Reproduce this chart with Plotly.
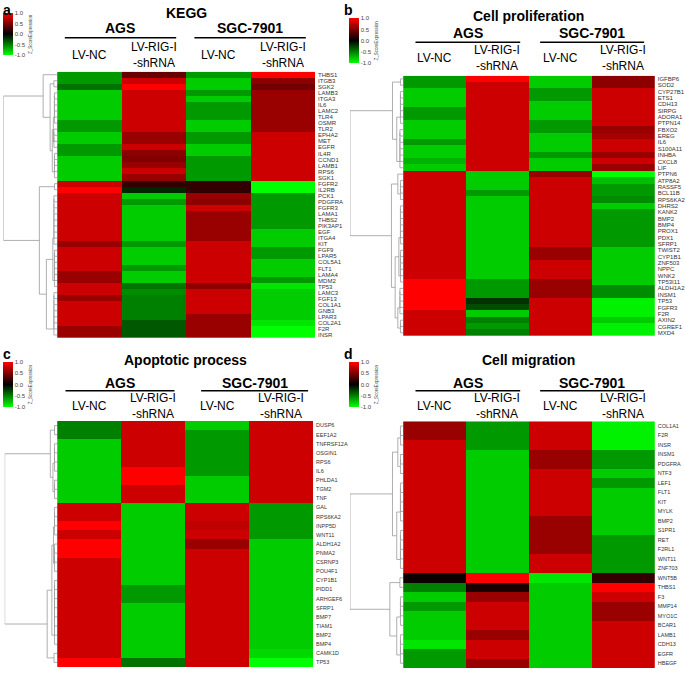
import plotly.graph_objects as go

W, H = 685, 686
FONT = "Liberation Sans, Arial, sans-serif"

col_labels = ["LV-NC", "LV-RIG-I<br>-shRNA", "LV-NC", "LV-RIG-I<br>-shRNA"]
group_labels = ["AGS", "SGC-7901"]
cb_tickvals = [1.0, 0.5, 0.0, -0.5, -1.0]
cb_ticktext = ["1.0", "0.5", "0.0", "-0.5", "-1.0"]
cb_title = "Z_ScoreExpression"

# ---------------- Panel a : KEGG ----------------
kegg_genes = ["THBS1", "ITGB3", "SGK2", "LAMB3", "ITGA3", "IL6", "LAMC2", "TLR4", "OSMR", "TLR2",
              "EPHA2", "MET", "EGFR", "IL4R", "CCND1", "LAMB1", "RPS6", "SGK1", "FGFR2", "IL2RB",
              "PCK1", "PDGFRA", "FGFR3", "LAMA1", "THBS2", "PIK3AP1", "EGF", "ITGA4", "KIT", "FGF9",
              "LPAR5", "COL5A1", "FLT1", "LAMA4", "MDM2", "TP53", "LAMC3", "FGF13", "COL1A1", "GNB3",
              "LPAR3", "COL2A1", "F2R", "INSR"]
kegg_ags_nc = [-0.6, -0.6, -0.45, -0.8, -0.8, -0.8, -0.8, -0.8, -0.6, -0.6,
               -0.8, -0.8, -0.6, -0.6, -0.8, -0.8, -0.8, -0.8, 0.8, 1.0,
               0.8, 0.8, 0.8, 0.8, 0.8, 0.8, 0.8, 0.8, 0.6, 0.8,
               0.8, 0.8, 0.8, 0.6, 0.6, 0.8, 0.8, 0.6, 0.8, 0.8,
               0.8, 0.8, 0.6, 0.6]
kegg_ags_sh = [0.4, 0.8, 1.0, 0.8, 0.8, 0.8, 0.8, 0.8, 0.8, 0.8,
               0.6, 0.6, 0.8, 0.55, 0.5, 0.6, 0.8, 0.6, 0.2, -0.15,
               -0.8, -0.6, -0.8, -0.8, -0.8, -0.8, -0.8, -0.8, -0.6, -0.8,
               -0.8, -0.8, -0.6, -0.8, -0.8, -0.45, -0.55, -0.5, -0.5, -0.5,
               -0.5, -0.35, -0.35, -0.35]
kegg_sgc_nc = [-0.6, -0.8, -0.8, -0.6, -0.8, -0.6, -0.6, -0.6, -0.8, -0.8,
               -0.6, -0.6, -0.8, -0.8, -0.6, -0.6, -0.6, -0.6, 0.2, 0.2,
               0.6, 0.55, 0.8, 0.6, 0.6, 0.6, 0.6, 0.6, 0.8, 0.8,
               0.8, 0.8, 0.8, 0.8, 0.8, 0.55, 0.8, 0.8, 0.8, 0.8,
               0.6, 0.6, 0.6, 0.6]
kegg_sgc_sh = [1.0, 0.55, 0.45, 0.6, 0.6, 0.6, 0.6, 0.6, 0.6, 0.6,
               0.8, 0.8, 0.8, 0.8, 0.8, 0.8, 0.8, 0.8, -1.0, -1.0,
               -0.6, -0.6, -0.6, -0.6, -0.6, -0.6, -0.8, -0.8, -0.8, -0.6,
               -0.6, -0.8, -0.8, -0.8, -0.6, -0.9, -0.8, -0.8, -0.8, -0.8,
               -0.8, -0.9, -1.0, -1.0]
kegg_blocks = [(0, 0, 0.0), (1, 2, 0.06), (3, 8, 0.05), (9, 12, 0.06), (13, 17, 0.05),
               (18, 19, 0.05), (20, 28, 0.06), (29, 35, 0.05), (36, 43, 0.06)]
kegg_tree = (1.0, (0.26, 0, (0.13, 1, (0.09, (0.07, 2, 3), 4))),
             (0.33, 5, (0.2, (0.08, 6, 7), 8)))

# ---------------- Panel b : Cell proliferation ----------------
prolif_genes = ["IGFBP6", "SOD2", "CYP27B1", "ETS1", "CDH13", "SIRPG", "ADORA1", "PTPN14", "FBXO2", "EREG",
                "IL6", "S100A11", "INHBA", "CXCL8", "LIF", "PTPN6", "ATP8A2", "RASSF5", "BCL11B", "RPS6KA2",
                "DHRS2", "KANK2", "BMP2", "BMP4", "PROX1", "PDX1", "SFRP1", "TWIST2", "CYP1B1", "ZNF503",
                "NPPC", "WNK2", "TP53I11", "ALDH1A2", "INSM1", "TP53", "FGFR3", "F2R", "AXIN2", "CGREF1",
                "MXD4"]
prolif_ags_nc = [-0.6, -0.6, -0.8, -0.8, -0.8, -0.6, -0.6, -0.8, -0.8, -0.8,
                 -0.6, -0.8, -0.8, -0.7, -0.8, 0.8, 0.8, 0.8, 0.8, 0.8,
                 0.8, 0.8, 0.8, 0.8, 0.8, 0.8, 0.8, 0.8, 0.8, 0.8,
                 0.8, 0.8, 1.0, 1.0, 1.0, 1.0, 1.0, 0.8, 0.8, 0.8,
                 0.8]
prolif_ags_sh = [1.0, 0.8, 0.8, 0.8, 0.8, 0.8, 0.8, 0.8, 0.8, 0.8,
                 0.8, 0.8, 0.8, 0.8, 0.8, -0.8, -0.8, -0.8, -0.6, -0.8,
                 -0.8, -0.8, -0.8, -0.8, -0.8, -0.8, -0.8, -0.8, -0.8, -0.8,
                 -0.8, -0.8, -0.6, -0.6, -0.6, -0.2, -0.3, -0.8, -0.5, -0.6,
                 -0.5]
prolif_sgc_nc = [-0.8, -0.8, -0.6, -0.6, -0.8, -0.8, -0.8, -0.6, -0.6, -0.8,
                 -0.8, -0.8, -0.6, -0.8, -0.8, 0.6, 0.8, 0.8, 0.8, 0.8,
                 0.8, 0.8, 0.8, 0.8, 0.8, 0.8, 0.8, 0.6, 0.6, 0.8,
                 0.8, 0.8, 0.6, 0.6, 0.6, 0.8, 0.8, 0.8, 0.8, 0.8,
                 0.8]
prolif_sgc_sh = [0.55, 0.55, 0.8, 0.8, 0.8, 0.8, 0.8, 0.8, 0.6, 0.65,
                 0.8, 0.8, 0.6, 0.8, 0.6, -1.0, -0.75, -0.6, -0.6, -0.55,
                 -0.8, -0.6, -0.6, -0.6, -0.6, -0.6, -0.6, -0.8, -0.8, -0.8,
                 -0.8, -0.8, -0.8, -0.55, -0.55, -0.95, -0.95, -0.95, -0.8, -0.95,
                 -0.95]
prolif_blocks = [(0, 1, 0.05), (2, 7, 0.05), (8, 14, 0.06), (15, 15, 0.0), (16, 19, 0.05),
                 (20, 26, 0.05), (27, 32, 0.05), (33, 37, 0.06), (38, 40, 0.05)]
prolif_tree = (1.0, (0.2, 0, (0.12, 1, 2)),
               (0.22, (0.1, 3, 4), (0.15, (0.08, 5, 6), (0.1, 7, 8))))

# ---------------- Panel c : Apoptotic process ----------------
apop_genes = ["DUSP6", "EEF1A2", "TNFRSF12A", "OSGIN1", "RPS6", "IL6", "PHLDA1", "TGM2", "TNF", "GAL",
              "RPS6KA2", "INPP5D", "WNT11", "ALDH1A2", "PNMA2", "CSRNP3", "POU4F1", "CYP1B1", "PIDD1",
              "ARHGEF6", "SFRP1", "BMP7", "TIAM1", "BMP2", "BMP4", "CAMK1D", "TP53"]
apop_ags_nc = [-0.5, -0.5, -0.8, -0.8, -0.8, -0.8, -0.8, -0.8, -0.8, 0.8,
               0.8, 1.0, 0.8, 1.0, 1.0, 0.8, 0.8, 0.8, 0.8, 0.8,
               0.8, 0.8, 0.8, 0.8, 0.8, 0.8, 1.0]
apop_ags_sh = [0.8, 0.8, 0.8, 0.8, 0.8, 1.0, 1.0, 0.8, 0.8, -0.8,
               -0.8, -0.8, -0.8, -0.8, -0.8, -0.8, -0.8, -0.8, -0.6, -0.6,
               -0.8, -0.8, -0.8, -0.8, -0.8, -0.8, -0.45]
apop_sgc_nc = [-0.8, -0.6, -0.6, -0.6, -0.6, -0.6, -0.8, -0.8, -0.8, 0.8,
               0.8, 0.75, 0.8, 0.6, 0.8, 0.8, 0.8, 0.8, 0.8, 0.8,
               0.8, 0.8, 0.8, 0.8, 0.8, 0.8, 0.8]
apop_sgc_sh = [0.8, 0.8, 0.8, 0.8, 0.8, 0.8, 0.8, 0.8, 0.8, -0.6,
               -0.6, -0.6, -0.6, -0.8, -0.8, -0.8, -0.8, -0.8, -0.8, -0.8,
               -0.8, -0.8, -0.8, -0.8, -0.8, -0.85, -1.0]
apop_blocks = [(0, 1, 0.05), (2, 5, 0.05), (6, 8, 0.05), (9, 12, 0.05), (13, 16, 0.05),
               (17, 24, 0.05), (25, 26, 0.06)]
apop_tree = (1.0, (0.13, 0, (0.08, 1, 2)),
             (0.19, (0.1, (0.07, 3, 4), 5), 6))

# ---------------- Panel d : Cell migration ----------------
migr_genes = ["COL1A1", "F2R", "INSR", "INSM1", "PDGFRA", "NTF3", "LEF1", "FLT1", "KIT", "MYLK",
              "BMP2", "S1PR1", "RET", "F2RL1", "WNT11", "ZNF703", "WNT5B", "THBS1", "F3", "MMP14",
              "MYO1C", "BCAR1", "LAMB1", "CDH13", "EGFR", "HBEGF"]
migr_ags_nc = [0.6, 0.6, 0.8, 0.8, 0.8, 0.8, 0.8, 0.8, 0.8, 0.8,
               0.8, 0.8, 0.8, 0.8, 0.8, 0.8, 0.05, -0.5, -0.8, -0.6,
               -0.8, -0.8, -0.8, -0.9, -0.6, -0.6]
migr_ags_sh = [-0.6, -0.6, -0.6, -0.8, -0.8, -0.8, -0.8, -0.8, -0.8, -0.8,
               -0.8, -0.8, -0.8, -0.8, -0.8, -0.8, 1.0, 0.1, 0.6, 0.8,
               0.8, 0.8, 0.6, 0.8, 0.8, 0.6]
migr_sgc_nc = [0.8, 0.8, 0.8, 0.6, 0.6, 0.8, 0.8, 0.8, 0.8, 0.8,
               0.6, 0.6, 0.6, 0.6, 0.8, 0.8, -0.9, -0.8, -0.8, -0.8,
               -0.8, -0.8, -0.8, -0.8, -0.8, -0.8]
migr_sgc_sh = [-0.95, -0.95, -0.95, -0.6, -0.6, -0.8, -0.6, -0.8, -0.8, -0.8,
               -0.8, -0.8, -0.6, -0.6, -0.6, -0.6, 0.2, 1.0, 0.8, 0.6,
               0.6, 0.8, 0.8, 0.8, 0.8, 0.8]
migr_blocks = [(0, 2, 0.05), (3, 5, 0.05), (6, 10, 0.05), (11, 15, 0.05),
               (16, 17, 0.06), (18, 21, 0.05), (22, 25, 0.05)]
migr_tree = (1.0, (0.2, (0.1, 0, 1), (0.12, 2, 3)),
             (0.25, 4, (0.12, 5, 6)))

colorscale = [[0.0, "#00FF00"], [0.5, "#000000"], [1.0, "#FF0000"]]

# layout geometry (pixels)
panels = [
    dict(title="KEGG", genes=kegg_genes, cols=[kegg_ags_nc, kegg_ags_sh, kegg_sgc_nc, kegg_sgc_sh],
         blocks=kegg_blocks, tree=kegg_tree, letter="a",
         hx=(57.3, 316.0), hy=(71.7, 338.0), dx0=3.3, letter_xy=(1, 0),
         title_y=13.5, group_y=28.5, line_y=37.7, lines=[(65, 176.7), (195, 306.7)],
         lab_y=55, cb=(3, 13.5, 55), gfont=6),
    dict(title="Cell proliferation", genes=prolif_genes,
         cols=[prolif_ags_nc, prolif_ags_sh, prolif_sgc_nc, prolif_sgc_sh],
         blocks=prolif_blocks, tree=prolif_tree, letter="b",
         hx=(404.3, 656.7), hy=(75.7, 336.0), dx0=351, letter_xy=(343, 0),
         title_y=16, group_y=33, line_y=42.3, lines=[(416.7, 521.7), (541.7, 646)],
         lab_y=58, cb=(350, 18.5, 63), gfont=6),
    dict(title="Apoptotic process", genes=apop_genes,
         cols=[apop_ags_nc, apop_ags_sh, apop_sgc_nc, apop_sgc_sh],
         blocks=apop_blocks, tree=apop_tree, letter="c",
         hx=(57.3, 314.0), hy=(421.0, 667.0), dx0=4.7, letter_xy=(1, 344),
         title_y=360, group_y=382.7, line_y=390.7, lines=[(65.7, 175), (201.7, 309)],
         lab_y=406, cb=(3, 362, 407), gfont=5.5),
    dict(title="Cell migration", genes=migr_genes,
         cols=[migr_ags_nc, migr_ags_sh, migr_sgc_nc, migr_sgc_sh],
         blocks=migr_blocks, tree=migr_tree, letter="d",
         hx=(404.3, 656.7), hy=(421.3, 668.0), dx0=351, letter_xy=(343, 344),
         title_y=360, group_y=382.7, line_y=390.7, lines=[(416.7, 521.7), (541.7, 646)],
         lab_y=406, cb=(350, 362, 407), gfont=5.5),
]


def px_x(x):
    return x / W


def px_y(y):
    return 1 - y / H


def build_dendro(tree, blocks):
    xs, ys = [], []

    def seg(pts):
        for (h, p) in pts:
            xs.append(h)
            ys.append(p)
        xs.append(None)
        ys.append(None)

    def block(b):
        a, e, h = blocks[b]
        pos, ht = float(a), 0.0
        for i in range(a + 1, e + 1):
            seg([(ht, pos), (h, pos), (h, float(i)), (0.0, float(i))])
            pos, ht = (pos + i) / 2.0, h
        return pos, ht

    def node(n):
        if isinstance(n, int):
            return block(n)
        h, l, r = n
        pl, hl = node(l)
        pr, hr = node(r)
        seg([(hl, pl), (h, pl), (h, pr), (hr, pr)])
        return (pl + pr) / 2.0, h

    node(tree)
    return xs, ys


fig = go.Figure()
annotations = []
shapes = []

for k, p in enumerate(panels):
    n = len(p["genes"])
    hx_ax = "x%d" % (2 * k + 1)
    dx_ax = "x%d" % (2 * k + 2)
    y_ax = "y%d" % (k + 1)
    z = [[c[i] for c in p["cols"]] for i in range(n)]
    cbx, cby0, cby1 = p["cb"]
    fig.add_trace(go.Heatmap(
        z=z, x=[0, 1, 2, 3], y=list(range(n)), xaxis=hx_ax, yaxis=y_ax,
        colorscale=colorscale, zmin=-1, zmax=1, hoverinfo="skip",
        colorbar=dict(x=px_x(cbx), xanchor="left", y=px_y((cby0 + cby1) / 2), yanchor="middle",
                      len=cby1 - cby0, lenmode="pixels", thickness=10, thicknessmode="pixels",
                      xpad=0, ypad=0, outlinewidth=0, ticks="", tickvals=cb_tickvals,
                      ticktext=cb_ticktext, tickfont=dict(size=6, color="#444", family=FONT),
                      title=dict(text=cb_title, side="right",
                                 font=dict(size=4.5, color="#444", family=FONT)))))
    dxs, dys = build_dendro(p["tree"], p["blocks"])
    fig.add_trace(go.Scatter(x=dxs, y=dys, xaxis=dx_ax, yaxis=y_ax, mode="lines",
                             line=dict(color="#9a9a9a", width=0.8), hoverinfo="skip"))

    hx0, hx1 = p["hx"]
    hy0, hy1 = p["hy"]
    fig.layout["xaxis%d" % (2 * k + 1)] = dict(domain=[px_x(hx0), px_x(hx1)], range=[-0.5, 3.5],
                                               visible=False, anchor=y_ax, fixedrange=True)
    fig.layout["xaxis%d" % (2 * k + 2)] = dict(domain=[px_x(p["dx0"]), px_x(hx0)], range=[1.0, 0.0],
                                               visible=False, anchor=y_ax, fixedrange=True)
    fig.layout["yaxis%d" % (k + 1)] = dict(domain=[px_y(hy1), px_y(hy0)], range=[n - 0.5, -0.5],
                                           anchor=hx_ax, side="right", tickmode="array",
                                           tickvals=list(range(n)), ticktext=p["genes"],
                                           ticks="", showgrid=False, zeroline=False, showline=False,
                                           tickfont=dict(size=p["gfont"], color="#333", family=FONT),
                                           ticklabelstandoff=2, fixedrange=True)

    cw = (hx1 - hx0) / 4.0
    lx, ly = p["letter_xy"]
    annotations.append(dict(x=px_x(lx), y=px_y(ly), xref="paper", yref="paper", xanchor="left",
                            yanchor="top", showarrow=False, text="<b>%s</b>" % p["letter"],
                            font=dict(size=14, color="black", family=FONT)))
    annotations.append(dict(x=px_x((hx0 + hx1) / 2), y=px_y(p["title_y"]), xref="paper", yref="paper",
                            xanchor="center", yanchor="middle", showarrow=False,
                            text="<b>%s</b>" % p["title"], font=dict(size=14, color="black", family=FONT)))
    for g, (lx0, lx1) in enumerate(p["lines"]):
        annotations.append(dict(x=px_x((lx0 + lx1) / 2), y=px_y(p["group_y"]), xref="paper", yref="paper",
                                xanchor="center", yanchor="middle", showarrow=False,
                                text="<b>%s</b>" % group_labels[g],
                                font=dict(size=14, color="black", family=FONT)))
        shapes.append(dict(type="line", xref="paper", yref="paper", x0=px_x(lx0), x1=px_x(lx1),
                           y0=px_y(p["line_y"]), y1=px_y(p["line_y"]),
                           line=dict(color="black", width=1.5)))
    for c, lab in enumerate(col_labels):
        annotations.append(dict(x=px_x(hx0 + cw * (c + 0.5)), y=px_y(p["lab_y"]), xref="paper",
                                yref="paper", xanchor="center", yanchor="middle", showarrow=False,
                                text=lab, font=dict(size=12, color="black", family=FONT)))

fig.update_layout(width=W, height=H, margin=dict(l=0, r=0, t=0, b=0), paper_bgcolor="white",
                  plot_bgcolor="white", showlegend=False, annotations=annotations, shapes=shapes,
                  font=dict(family=FONT))
fig.write_html("out.html", config={"displayModeBar": False, "staticPlot": True},
               post_script="document.body.style.margin='0';document.body.style.overflow='hidden';")
